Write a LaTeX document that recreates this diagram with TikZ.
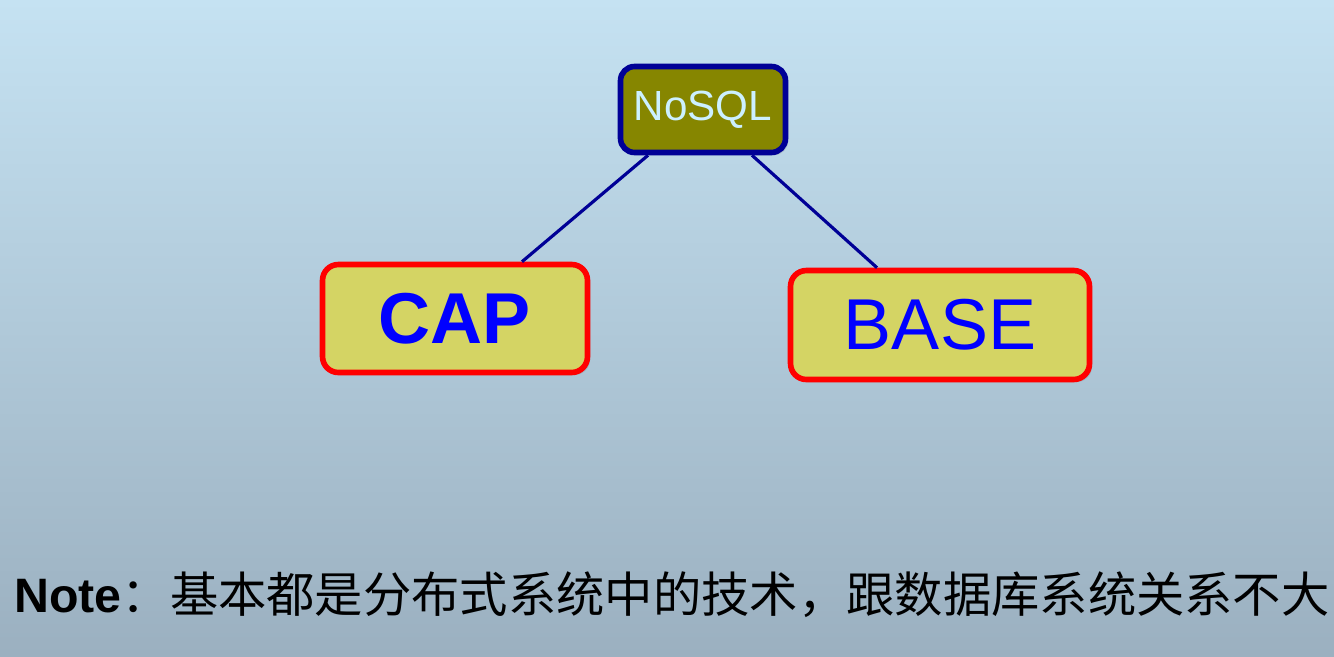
\documentclass[tikz,border=0pt]{standalone}
\usepackage{fontspec}
\setmainfont{Liberation Sans}
\newfontfamily\cjk{Noto Sans CJK SC}
\usetikzlibrary{shadows}
\definecolor{bgtop}{RGB}{197,226,242}
\definecolor{bgbottom}{RGB}{155,176,192}
\definecolor{olivebox}{RGB}{134,134,0}
\definecolor{navyline}{RGB}{0,0,150}
\definecolor{nosqltext}{RGB}{204,240,255}
\definecolor{yellowbox}{RGB}{212,212,100}
\tikzset{
  topbox/.style={draw=navyline, line width=3.2pt, fill=olivebox, rounded corners=8pt,
    text=nosqltext, font=\fontsize{24}{28}\selectfont,
    drop shadow={opacity=0.3, shadow xshift=1.5pt, shadow yshift=-1.5pt}},
  leafbox/.style={draw=red, line width=3.2pt, fill=yellowbox, rounded corners=9pt,
    text=blue, font=\fontsize{41}{46}\selectfont,
    drop shadow={opacity=0.3, shadow xshift=1.5pt, shadow yshift=-1.5pt}},
  link/.style={navyline, line width=1.8pt}
}
\begin{document}
\begin{tikzpicture}[x=0.02cm,y=-0.02cm]
% background
\shade[top color=bgtop, bottom color=bgbottom] (0,0) rectangle (1334,656);
\useasboundingbox (0,0) rectangle (1334,656);
% tree
\node[topbox, minimum width=3.3cm, minimum height=1.72cm] (nosql) at (703,109.5) {NoSQL};
\node[leafbox, minimum width=5.3cm, minimum height=2.16cm] (cap) at (455,318.5) {\textbf{CAP}};
\node[leafbox, minimum width=5.98cm, minimum height=2.18cm] (base) at (940,325) {BASE};
\draw[link] ([xshift=-1.1cm]nosql.south) -- ([xshift=1.34cm]cap.north);
\draw[link] ([xshift=0.98cm]nosql.south) -- ([xshift=-1.26cm]base.north);
% note
\node[anchor=base west, inner sep=0pt, font=\fontsize{27.5}{32}\selectfont] (note) at (14,612)
  {\textbf{Note}{\cjk ：基本都是分布式系统中的技术，跟数据库系统关系不大}};
\end{tikzpicture}
\end{document}
